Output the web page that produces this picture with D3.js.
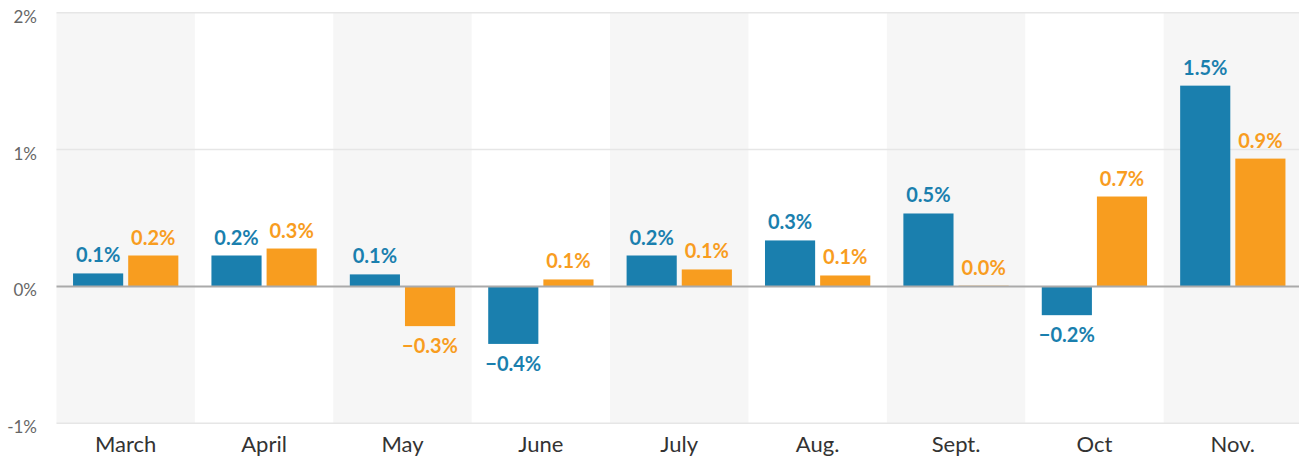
<!DOCTYPE html>
<html lang="en">
<head>
    <meta charset="UTF-8">
    <title>Monthly change</title>
    <script src="https://d3js.org/d3.v7.min.js"></script>
    <style>
        body { margin: 0; background: #fff; }
        svg { display: block; font-family: Lato, "Open Sans", sans-serif; }
    </style>
</head>
<body>
    <script>
        // data
        const months = ["March", "April", "May", "June", "July", "Aug.", "Sept.", "Oct", "Nov."];
        const series = ["blue", "orange"];
        const blueValues = [0.095, 0.226, 0.088, -0.42, 0.226, 0.336, 0.533, -0.21, 1.467];
        const orangeValues = [0.226, 0.277, -0.29, 0.051, 0.124, 0.08, 0.005, 0.657, 0.934];
        const yTicks = [-1, 0, 1, 2];

        const colors = { blue: "#1a7fae", orange: "#f89d1f" };

        const width = 1299, height = 458;
        const margin = { top: 12.7, right: -3, bottom: 34.7, left: 56.5 };

        const svg = d3.select("body").append("svg")
            .attr("width", width)
            .attr("height", height);

        const x = d3.scaleBand()
            .domain(months)
            .range([margin.left, width - margin.right]);

        const x1 = d3.scaleBand()
            .domain(series)
            .range([0, x.bandwidth()])
            .paddingInner(1 / 11)
            .paddingOuter(0.3);

        const y = d3.scaleLinear()
            .domain([-1, 2])
            .range([height - margin.bottom, margin.top]);

        // alternating column shading
        svg.append("g")
            .selectAll("rect")
            .data(months.filter((d, i) => i % 2 === 0))
            .join("rect")
            .attr("x", d => x(d))
            .attr("y", y(2))
            .attr("width", x.bandwidth())
            .attr("height", y(-1) - y(2))
            .attr("fill", "#f6f6f6");

        // gridlines
        svg.append("g")
            .selectAll("line")
            .data(yTicks.filter(d => d !== 0))
            .join("line")
            .attr("x1", margin.left)
            .attr("x2", width)
            .attr("y1", d => y(d))
            .attr("y2", d => y(d))
            .attr("stroke", "#e6e6e6")
            .attr("stroke-width", 1.5);

        // y tick labels
        svg.append("g")
            .selectAll("text")
            .data(yTicks)
            .join("text")
            .attr("x", 37)
            .attr("y", d => y(d) + 10)
            .attr("text-anchor", "end")
            .attr("fill", "#666")
            .attr("font-size", 17)
            .text(d => d + "%");

        const rows = months.map((m, i) => ({
            month: m,
            vals: [
                { key: "blue", v: blueValues[i] },
                { key: "orange", v: orangeValues[i] }
            ]
        }));

        const fmt = d3.format(".1f");

        const g = svg.append("g")
            .selectAll("g")
            .data(rows)
            .join("g")
            .attr("transform", d => `translate(${x(d.month)},0)`);

        g.selectAll("rect")
            .data(d => d.vals)
            .join("rect")
            .attr("x", d => x1(d.key))
            .attr("y", d => y(Math.max(0, d.v)))
            .attr("width", x1.bandwidth())
            .attr("height", d => Math.abs(y(d.v) - y(0)))
            .attr("fill", d => colors[d.key]);

        g.selectAll("text")
            .data(d => d.vals)
            .join("text")
            .attr("x", d => x1(d.key) + x1.bandwidth() / 2)
            .attr("y", d => d.v >= 0 ? y(d.v) - 11 : y(d.v) + 27)
            .attr("text-anchor", "middle")
            .attr("fill", d => colors[d.key])
            .attr("font-size", 20)
            .attr("font-weight", 700)
            .text(d => fmt(d.v) + "%");

        // zero line
        svg.append("line")
            .attr("x1", margin.left)
            .attr("x2", width)
            .attr("y1", y(0))
            .attr("y2", y(0))
            .attr("stroke", "#aaa")
            .attr("stroke-width", 2);

        // month labels
        svg.append("g")
            .selectAll("text")
            .data(months)
            .join("text")
            .attr("x", d => x(d) + x.bandwidth() / 2)
            .attr("y", 452)
            .attr("text-anchor", "middle")
            .attr("fill", "#333")
            .attr("font-size", 22)
            .text(d => d);
    </script>
</body>
</html>
